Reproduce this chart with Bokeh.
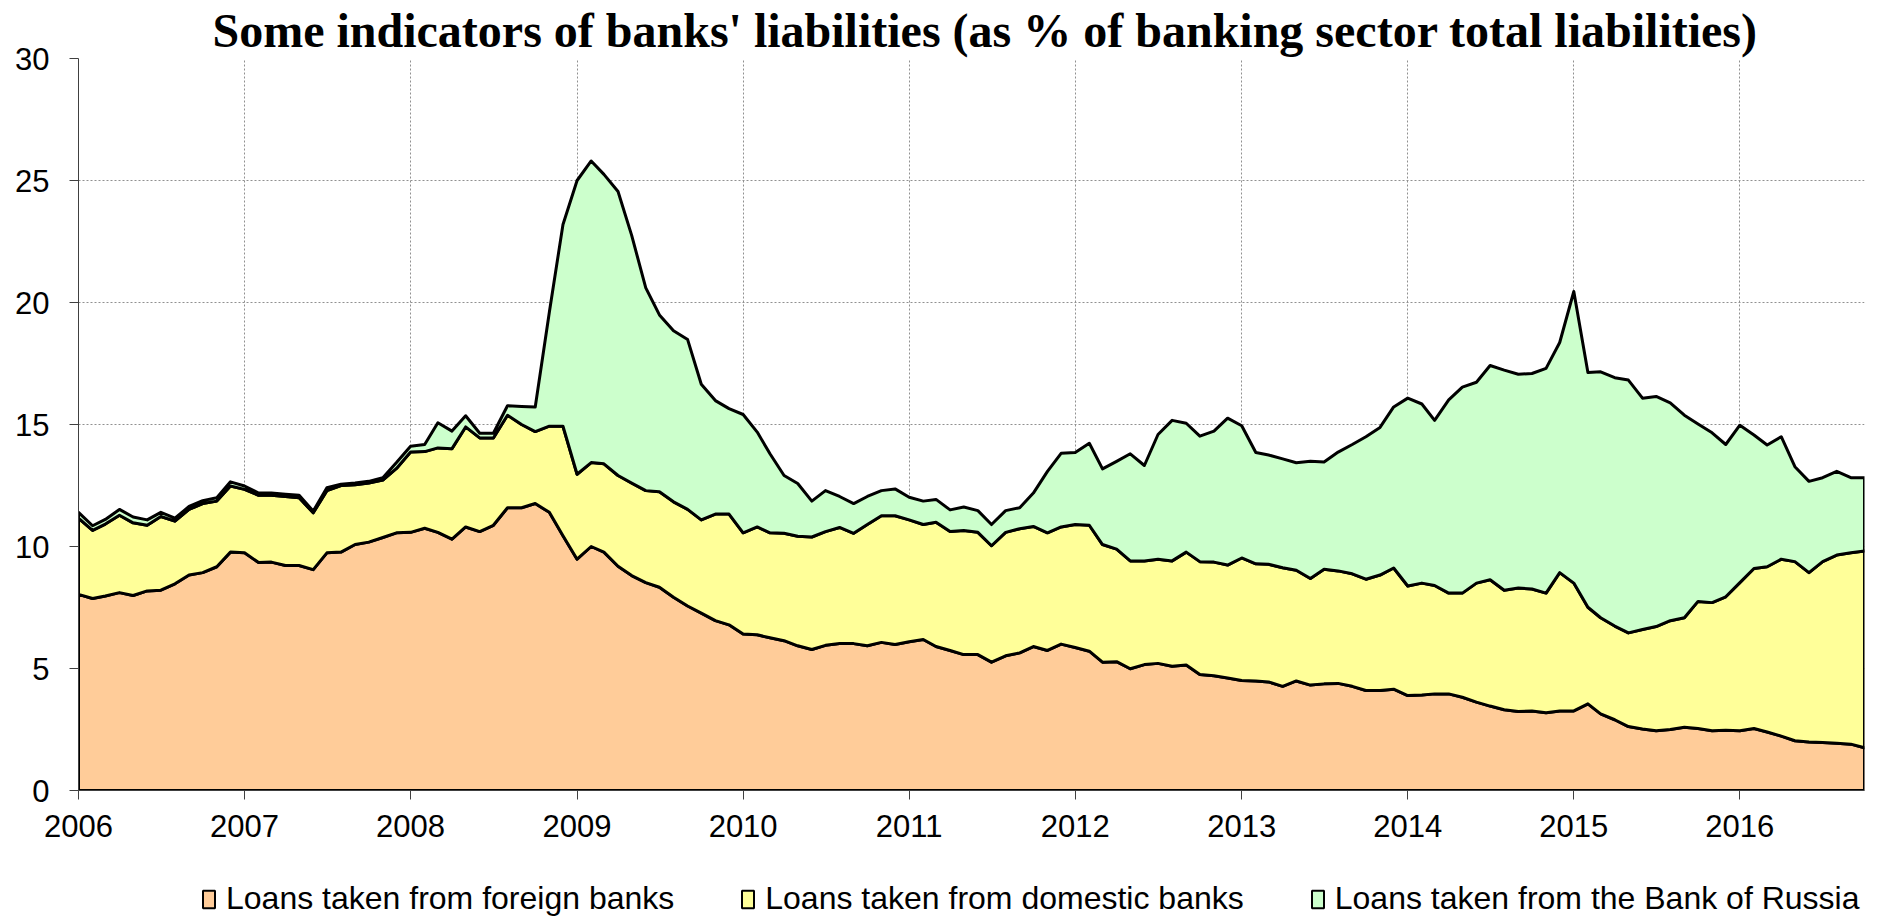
import numpy as np
import pandas as pd
from bokeh.plotting import figure
from bokeh.layouts import column
from bokeh.models import FixedTicker, DatetimeTickFormatter, Legend, LegendItem, Range1d
from bokeh.embed import file_html
from bokeh.resources import INLINE

# Monthly observations, Jan 2006 .. Oct 2016
months = pd.date_range("2006-01-01", "2016-10-01", freq="MS")

foreign = [
    8.04, 7.87, 7.97, 8.11, 7.99, 8.18, 8.21, 8.47, 8.83, 8.93, 9.17, 9.77,
    9.74, 9.34, 9.36, 9.22, 9.22, 9.05, 9.74, 9.77, 10.08, 10.18, 10.37, 10.56,
    10.58, 10.75, 10.58, 10.30, 10.80, 10.61, 10.87, 11.59, 11.59, 11.76, 11.40, 10.44,
    9.48, 10.00, 9.77, 9.19, 8.81, 8.52, 8.33, 7.92, 7.56, 7.27, 6.96, 6.79,
    6.41, 6.38, 6.26, 6.14, 5.93, 5.78, 5.95, 6.02, 6.02, 5.93, 6.07, 5.98,
    6.10, 6.19, 5.90, 5.74, 5.57, 5.57, 5.26, 5.52, 5.64, 5.90, 5.74, 6.00,
    5.86, 5.71, 5.26, 5.28, 4.99, 5.16, 5.21, 5.09, 5.14, 4.75, 4.70, 4.61,
    4.51, 4.49, 4.45, 4.27, 4.49, 4.32, 4.37, 4.39, 4.27, 4.10, 4.10, 4.15,
    3.89, 3.91, 3.96, 3.96, 3.82, 3.62, 3.46, 3.31, 3.24, 3.26, 3.19, 3.26,
    3.26, 3.55, 3.14, 2.90, 2.62, 2.52, 2.45, 2.50, 2.59, 2.54, 2.45, 2.47,
    2.45, 2.54, 2.40, 2.23, 2.04, 1.99, 1.97, 1.94, 1.90, 1.75,
]
domestic = [
    3.12, 2.79, 2.95, 3.17, 2.98, 2.69, 3.02, 2.57, 2.69, 2.83, 2.69, 2.71,
    2.60, 2.76, 2.74, 2.83, 2.78, 2.33, 2.55, 2.73, 2.45, 2.42, 2.35, 2.64,
    3.29, 3.14, 3.46, 3.71, 4.10, 3.84, 3.58, 3.79, 3.41, 2.95, 3.53, 4.49,
    3.48, 3.44, 3.62, 3.72, 3.79, 3.77, 3.91, 3.91, 3.96, 3.82, 4.37, 4.54,
    4.15, 4.42, 4.30, 4.40, 4.49, 4.61, 4.66, 4.76, 4.52, 4.97, 5.19, 5.28,
    4.99, 4.71, 5.09, 4.87, 5.09, 5.01, 4.77, 5.06, 5.09, 4.92, 4.82, 4.80,
    5.04, 5.16, 4.82, 4.61, 4.42, 4.25, 4.27, 4.32, 4.63, 4.63, 4.66, 4.63,
    5.02, 4.80, 4.82, 4.86, 4.54, 4.37, 4.70, 4.61, 4.61, 4.56, 4.73, 4.97,
    4.49, 4.59, 4.44, 4.13, 4.27, 4.88, 5.18, 4.90, 5.06, 5.00, 4.90, 5.67,
    5.24, 3.96, 3.94, 3.84, 3.84, 4.08, 4.27, 4.46, 4.49, 5.21, 5.25, 5.47,
    6.07, 6.56, 6.77, 7.25, 7.34, 6.94, 7.41, 7.71, 7.84, 8.07,
]
bank_of_russia = [
    0.24, 0.19, 0.19, 0.24, 0.24, 0.22, 0.17, 0.12, 0.12, 0.12, 0.14, 0.17,
    0.14, 0.09, 0.09, 0.09, 0.10, 0.07, 0.12, 0.05, 0.07, 0.07, 0.10, 0.24,
    0.24, 0.29, 1.03, 0.72, 0.46, 0.19, 0.19, 0.39, 0.74, 1.01, 4.67, 8.27,
    12.04, 12.36, 11.86, 11.64, 10.15, 8.31, 7.25, 7.01, 6.96, 5.56, 4.65, 4.32,
    4.85, 3.89, 3.24, 2.37, 2.16, 1.47, 1.68, 1.27, 1.22, 1.15, 1.03, 1.10,
    0.93, 0.96, 0.94, 0.89, 0.96, 0.89, 0.87, 0.89, 0.86, 1.37, 2.52, 3.02,
    2.95, 3.36, 3.10, 3.60, 4.39, 3.91, 5.11, 5.76, 5.28, 5.14, 5.37, 6.02,
    5.42, 4.56, 4.48, 4.46, 4.40, 4.80, 4.39, 4.87, 5.30, 5.84, 6.05, 6.60,
    7.70, 7.34, 6.77, 7.92, 8.44, 8.23, 8.78, 9.02, 8.76, 8.83, 9.21, 9.43,
    11.95, 9.62, 10.08, 10.18, 10.36, 9.48, 9.43, 8.93, 8.30, 7.27, 6.96, 6.24,
    6.45, 5.47, 4.99, 5.02, 3.89, 3.74, 3.44, 3.43, 3.08, 3.00,
]

series = [
    ("Loans taken from foreign banks", foreign, "#FFCC99"),
    ("Loans taken from domestic banks", domestic, "#FFFF99"),
    ("Loans taken from the Bank of Russia", bank_of_russia, "#CCFFCC"),
]
year_ticks = pd.date_range("2006-01-01", "2016-01-01", freq="YS")
y_ticks = [0, 5, 10, 15, 20, 25, 30]
title_text = "Some indicators of banks' liabilities (as % of banking sector total liabilities)"

x = np.array(months.values, dtype="datetime64[ms]")

# ---------------- main chart ----------------
p = figure(
    width=1877, height=852,
    x_axis_type="datetime",
    output_backend="svg", toolbar_location=None,
    min_border_left=78, min_border_right=13, min_border_top=58, min_border_bottom=62,
    title=title_text,
)
p.x_range = Range1d(x[0], x[-1])
p.y_range = Range1d(0, 30)

p.title.text_font = "Liberation Serif"
p.title.text_font_style = "bold"
p.title.text_font_size = "48px"
p.title.align = "left"
p.title.offset = 134
p.title.standoff = 3
p.title.text_color = "black"

lower = np.zeros(len(x))
for name, vals, color in series:
    upper = lower + np.array(vals)
    p.patch(
        x=np.concatenate([x, x[::-1]]),
        y=np.concatenate([upper, lower[::-1]]),
        fill_color=color, line_color="black", line_width=3, line_join="round",
    )
    lower = upper

p.xaxis.ticker = FixedTicker(ticks=[t.value // 10**6 for t in year_ticks])
p.xaxis.formatter = DatetimeTickFormatter(years="%Y", months="%Y", days="%Y")
p.yaxis.ticker = FixedTicker(ticks=y_ticks)

for ax in (p.xaxis[0], p.yaxis[0]):
    ax.major_label_text_font = "Liberation Sans"
    ax.major_label_text_font_size = "31px"
    ax.major_label_text_color = "black"
    ax.axis_line_color = "#404040"
    ax.axis_line_width = 1
    ax.major_tick_line_color = "#404040"
    ax.major_tick_out = 9
    ax.major_tick_in = 0
    ax.minor_tick_line_color = None
p.xaxis.major_label_standoff = 15
p.yaxis.major_label_standoff = 20

for g in (p.xgrid[0], p.ygrid[0]):
    g.grid_line_color = "#909090"
    g.grid_line_dash = "2 2"
    g.grid_line_width = 1
p.xgrid.ticker = p.xaxis.ticker
p.ygrid.ticker = p.yaxis.ticker
p.outline_line_color = None
p.background_fill_color = "white"
p.border_fill_color = "white"

# ---------------- legend strip ----------------
lg = figure(
    width=1877, height=65, output_backend="svg", toolbar_location=None,
    x_axis_location=None, y_axis_location=None,
    min_border_left=78, min_border_right=13, min_border_top=0, min_border_bottom=0,
    x_range=Range1d(0, 1), y_range=Range1d(0, 1),
)
lg.grid.visible = False
lg.outline_line_color = None
items = []
for name, vals, color in series:
    # off-screen swatch renderer, only used to draw the legend key
    r = lg.patch(x=[-3, -2, -2], y=[-3, -3, -2], fill_color=color,
                 line_color="black", line_width=2)
    items.append(LegendItem(label=name, renderers=[r]))
legend = Legend(
    items=items, orientation="horizontal", location=(123, 0),
    label_text_font="Liberation Sans", label_text_font_size="32px",
    label_text_color="black",
    glyph_width=15, glyph_height=22, label_standoff=10, spacing=66,
    padding=0, margin=0, border_line_color=None, background_fill_alpha=0,
)
lg.add_layout(legend)

open("out.html", "w").write(file_html(column(p, lg, spacing=0), INLINE))
